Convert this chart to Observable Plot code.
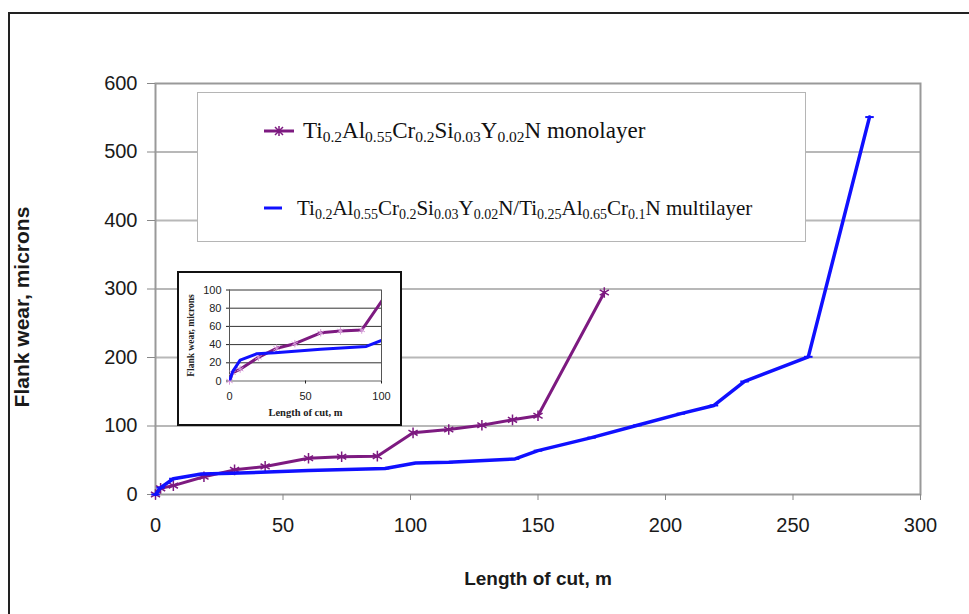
<!DOCTYPE html>
<html>
<head>
<meta charset="utf-8">
<script src="https://cdn.jsdelivr.net/npm/d3@7"></script>
<script src="https://cdn.jsdelivr.net/npm/@observablehq/plot@0.6"></script>
<style>
  body { margin: 0; background: #fff; }
  #wrap { position: relative; width: 969px; height: 614px; overflow: hidden; background: #fff; }
  .abs { position: absolute; }
  #legend { left: 197px; top: 92px; width: 609px; height: 150px; border: 1.5px solid #b5b5b5; box-sizing: border-box; background: #fff;
            font-family: "Liberation Serif", "Times New Roman", serif; color: #111; }
  #legend .row { position: absolute; left: 0; white-space: nowrap; display: flex; align-items: center; }
  #legend .r1 { font-size: 23px; }
  #legend .r1 sub { font-size: 15.5px; vertical-align: -4px; line-height: 0; }
  #legend .r2 { font-size: 21px; }
  #legend .r2 sub { font-size: 14px; vertical-align: -4px; line-height: 0; }
  #inset { left: 177px; top: 271px; width: 225px; height: 155px; border: 2.5px solid #111; box-sizing: border-box; background: #fff; }
</style>
</head>
<body>
<div id="wrap">
  <div class="abs" style="left:8px;top:12px;width:980px;height:1.5px;background:#222"></div>
  <div class="abs" style="left:8px;top:12px;width:1.5px;height:620px;background:#222"></div>
  <div id="main" class="abs" style="left:0;top:0"></div>
  <div id="legend" class="abs">
    <div class="row r1" style="left:66px;top:25px;height:26px">
      <svg width="30" height="14" style="margin-right:9px"><line x1="0" y1="7" x2="30" y2="7" stroke="#7d1a80" stroke-width="3"/><path d="M15,2 L15,12 M11,3 L19,11 M11,11 L19,3" stroke="#7d1a80" stroke-width="1.5"/></svg>
      <span>Ti<sub>0.2</sub>Al<sub>0.55</sub>Cr<sub>0.2</sub>Si<sub>0.03</sub>Y<sub>0.02</sub>N monolayer</span>
    </div>
    <div class="row r2" style="left:66px;top:103px;height:24px">
      <svg width="18" height="14" style="margin-right:15px"><line x1="0" y1="7" x2="18" y2="7" stroke="#1010ff" stroke-width="3"/></svg>
      <span>Ti<sub>0.2</sub>Al<sub>0.55</sub>Cr<sub>0.2</sub>Si<sub>0.03</sub>Y<sub>0.02</sub>N/Ti<sub>0.25</sub>Al<sub>0.65</sub>Cr<sub>0.1</sub>N multilayer</span>
    </div>
  </div>
  <div id="inset" class="abs"></div>
</div>
<script>
// ---- data ----
const monoX = [0, 2, 7, 19, 31, 43, 60, 73, 87, 101, 115, 128, 140, 150, 176];
const monoY = [0, 9, 13, 26, 36, 41, 53, 55, 56, 90, 95, 101, 109, 115, 295];
const multiX = [0, 2, 7, 18, 30, 60, 90, 102, 115, 141, 150, 171, 189, 206, 219, 231, 256, 280];
const multiY = [0, 10, 23, 30, 31, 35, 38, 46, 47, 52, 64, 83, 101, 118, 130, 165, 201, 551];
const xTicks = [0, 50, 100, 150, 200, 250, 300];
const yTicks = [0, 100, 200, 300, 400, 500, 600];
const insetXTicks = [0, 50, 100];
const insetYTicks = [0, 20, 40, 60, 80, 100];
const xTitle = "Length of cut, m";
const yTitle = "Flank wear, microns";

const mono = monoX.map((x, i) => ({x, y: monoY[i]}));
const multi = multiX.map((x, i) => ({x, y: multiY[i]}));
const purple = "#7d1a80";
const blue = "#1010ff";
const dash = {draw(ctx, size) { const r = Math.sqrt(size) * 0.8; ctx.moveTo(-r, 0); ctx.lineTo(r, 0); }};

const main = Plot.plot({
  width: 969, height: 614,
  marginLeft: 155, marginRight: 49, marginTop: 83, marginBottom: 120,
  x: {domain: [0, 300]},
  y: {domain: [0, 600]},
  style: {fontFamily: "Liberation Sans, Arial, sans-serif", fontSize: "20px", color: "#1a1a1a", background: "transparent"},
  marks: [
    Plot.ruleY(yTicks.filter(d => d > 0 && d < 600), {stroke: "#b8b8b8", strokeWidth: 2}),
    Plot.frame({stroke: "#999", strokeWidth: 2}),
    Plot.axisY({ticks: yTicks, tickSize: 8, tickPadding: 10, label: null, stroke: "#888", fontSize: 20}),
    Plot.axisX({ticks: xTicks, tickSize: 6, tickPadding: 17, label: null, stroke: "#888", fontSize: 20}),
    Plot.line(mono, {x: "x", y: "y", stroke: purple, strokeWidth: 3}),
    Plot.dot(mono, {x: "x", y: "y", symbol: "asterisk", r: 5, stroke: purple, strokeWidth: 1.5}),
    Plot.line(multi, {x: "x", y: "y", stroke: blue, strokeWidth: 3.5}),
    Plot.dot(multi, {x: "x", y: "y", symbol: dash, r: 3, stroke: blue, strokeWidth: 2}),
    Plot.text([xTitle], {text: d => d, frameAnchor: "bottom", dy: 90, textAnchor: "middle", fontWeight: "bold", fontSize: 19}),
    Plot.text([yTitle], {text: d => d, frameAnchor: "left", dx: -133, dy: 18, textAnchor: "middle", rotate: -90, fontWeight: "bold", fontSize: 21})
  ]
});
document.getElementById("main").appendChild(main);

const inset = Plot.plot({
  width: 220, height: 150,
  marginLeft: 50, marginRight: 18, marginTop: 16.5, marginBottom: 42.5,
  x: {domain: [0, 100]},
  y: {domain: [0, 100]},
  style: {fontFamily: "Liberation Sans, Arial, sans-serif", fontSize: "11px", color: "#222", background: "transparent"},
  marks: [
    Plot.ruleY(insetYTicks.filter(d => d > 0), {stroke: "#333", strokeWidth: 1}),
    Plot.ruleX([0, 100], {stroke: "#555", strokeWidth: 1}),
    Plot.ruleY([0], {stroke: "#999", strokeWidth: 1.5}),
    Plot.axisY({ticks: insetYTicks, tickSize: 3, tickPadding: 5, label: null, fontSize: 11}),
    Plot.axisX({ticks: insetXTicks, tickSize: 3, tickPadding: 8, label: null, fontSize: 11}),
    Plot.line(mono, {x: "x", y: "y", stroke: purple, strokeWidth: 3, clip: true}),
    Plot.dot(mono.filter(d => d.x <= 100), {x: "x", y: "y", symbol: "asterisk", r: 3.5, stroke: "#d69ad8", strokeWidth: 1}),
    Plot.line(multi, {x: "x", y: "y", stroke: blue, strokeWidth: 3, clip: true}),
    Plot.text([xTitle], {text: d => d, frameAnchor: "bottom", dy: 35, textAnchor: "middle", fontWeight: "bold", fontSize: 10.5, fontFamily: "Liberation Serif, Times New Roman, serif"}),
    Plot.text([yTitle], {text: d => d, frameAnchor: "left", dx: -38.5, textAnchor: "middle", rotate: -90, fontWeight: "bold", fontSize: 9.5, fontFamily: "Liberation Serif, Times New Roman, serif"})
  ]
});
document.getElementById("inset").appendChild(inset);
</script>
</body>
</html>
